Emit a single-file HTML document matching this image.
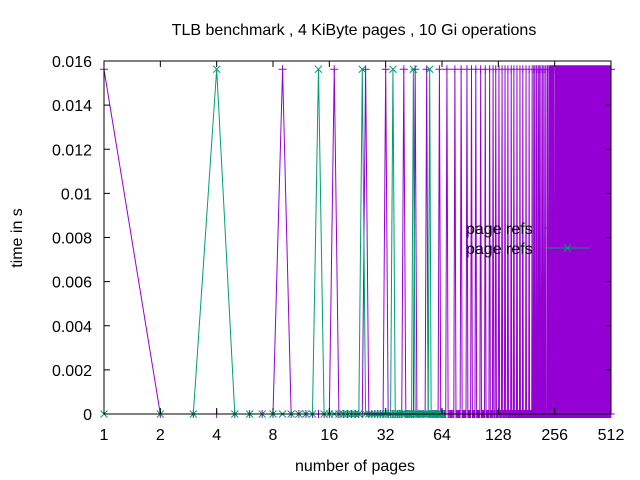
<!DOCTYPE html>
<html><head><meta charset="utf-8"><style>
html,body{margin:0;padding:0;background:#fff;}
svg{display:block;font-family:"Liberation Sans",sans-serif;}
</style></head><body>
<svg id="chart" width="640" height="480">
<text x="354" y="35" text-anchor="middle" font-size="16">TLB benchmark , 4 KiByte pages , 10 Gi operations</text>
<text transform="translate(22,238) rotate(-90)" text-anchor="middle" font-size="16">time in s</text>
<text x="355" y="471" text-anchor="middle" font-size="16">number of pages</text>
<g id="plot"></g>
<g id="axes"></g>
<g id="legend"></g>
</svg>
<script>
const xTicks = [1,2,4,8,16,32,64,128,256,512];
const yTicks = [0,0.002,0.004,0.006,0.008,0.01,0.012,0.014,0.016];
const yTickLabels = ["0","0.002","0.004","0.006","0.008","0.01","0.012","0.014","0.016"];
const peakValue = 0.015625;
const purplePeaks = [1,9,17,25,32,40,46,53,62,68,75,81,87,92,97,103,109,115,120,124,129,134,139,144,150,155,161,167,173,180,187,194,198,201,205,209,212,216,220,224,228,233,236,240,242,245,248,251,254,
258,260,262,264,266,268,270,272,274,276,278,280,282,284,286,288,290,292,294,296,298,300,302,304,306,308,310,312,314,316,318,320,322,324,326,328,330,332,334,336,338,340,342,344,346,348,350,352,354,356,358,360,362,364,366,368,370,372,374,376,378,380,382,384,386,388,390,392,394,396,398,400,402,404,406,408,410,412,414,416,418,420,422,424,426,428,430,432,434,436,438,440,442,444,446,448,450,452,454,456,458,460,462,464,466,468,470,472,474,476,478,480,482,484,486,488,490,492,494,496,498,500,502,504,506,508,510,512];
const greenPeaks = [4,14,24,35,45,55];
const purpleMaxN = 512;
const greenMaxN = 64;

const L=104,R=611,T=61,B=414;
const xs = n => L + (Math.log2(n)/9)*(R-L);
const ys = v => B - (v/0.016)*(B-T);
const NS="http://www.w3.org/2000/svg";
function mk(tag, attrs, parent){const e=document.createElementNS(NS,tag);for(const k in attrs)e.setAttribute(k,attrs[k]);parent.appendChild(e);return e;}
const plot=document.getElementById('plot'), axes=document.getElementById('axes'), legend=document.getElementById('legend');

function series(peaks, maxN, color, marker, name){
  const set=new Set(peaks);
  let d=''; const pts=[];
  for(let n=1;n<=maxN;n++){const v=set.has(n)?peakValue:0;const x=xs(n),y=ys(v);pts.push([x,y]);d+=(n===1?'M':'L')+x.toFixed(2)+','+y.toFixed(2);}
  const p=mk('path',{d:d,fill:'none',stroke:color,'stroke-width':1},plot);
  
  
  let md='';
  pts.forEach(([x,y])=>{
    if(marker==='+') md+=`M${x-4},${y}h8M${x},${y-4}v8`;
    else md+=`M${x-3.5},${y-3.5}l7,7M${x-3.5},${y+3.5}l7,-7`;
  });
  const m=mk('path',{d:md,fill:'none',stroke:color,'stroke-width':1},plot);
  
  
}
series(purplePeaks,purpleMaxN,'#9400d3','+','purple-series');
series(greenPeaks,greenMaxN,'#009e73','x','green-series');

const border=mk('rect',{x:L,y:T,width:R-L,height:B-T,fill:'none',stroke:'#000','stroke-width':1},axes);


yTicks.forEach((v,i)=>{
  const y=ys(v);
  mk('path',{d:`M${L},${y}h6M${R},${y}h-6`,stroke:'#000'},axes);
  const t=mk('text',{x:92,y:y+6,'text-anchor':'end','font-size':16},axes);
  t.textContent=yTickLabels[i];
  
  
});
xTicks.forEach(n=>{
  const x=xs(n);
  mk('path',{d:`M${x},${B}v-6M${x},${T}v6`,stroke:'#000'},axes);
  const t=mk('text',{x:x,y:440,'text-anchor':'middle','font-size':16},axes);
  t.textContent=String(n);
  
  
});

[['#9400d3','+',228],['#009e73','x',248]].forEach(([c,m,y],i)=>{
  const t=mk('text',{x:466,y:y+6,'font-size':16},legend);
  t.textContent='page refs';
  
  
  const l=mk('path',{d:`M545,${y}h45`+(m==='+'?`M563.5,${y}h8M567.5,${y-4}v8`:`M564,${y-3.5}l7,7M564,${y+3.5}l7,-7`),stroke:c,fill:'none'},legend);
  
  
});
</script>
</body></html>
